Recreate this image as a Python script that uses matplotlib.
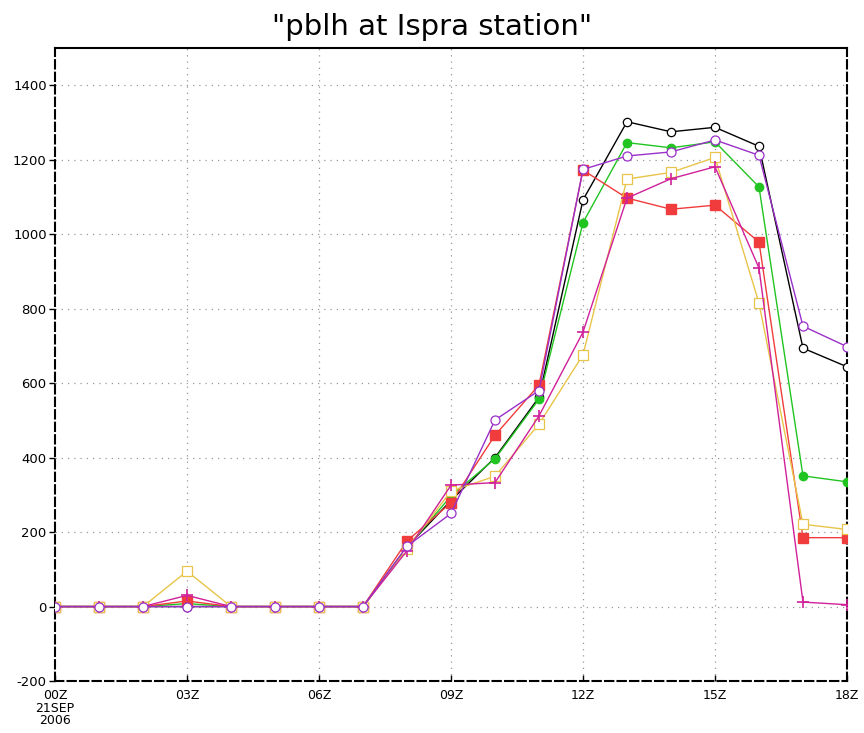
import matplotlib
matplotlib.use("Agg")
import matplotlib.pyplot as plt

hours = list(range(19))
xtick_pos = [0, 3, 6, 9, 12, 15, 18]
xtick_labels = ["00Z\n21SEP\n2006", "03Z", "06Z", "09Z", "12Z", "15Z", "18Z"]
ytick_pos = [-200, 0, 200, 400, 600, 800, 1000, 1200, 1400]

black_run = [0, 0, 0, 0, 0, 0, 0, 0, 160, 285, 400, 562, 1092, 1302, 1275, 1287, 1236, 694, 644]
green_run = [0, 0, 0, 8, 0, 0, 0, 0, 158, 297, 397, 557, 1031, 1246, 1232, 1248, 1127, 351, 335]
red_run = [0, 0, 0, 15, 0, 0, 0, 0, 176, 279, 460, 595, 1172, 1097, 1067, 1078, 979, 185, 185]
yellow_run = [0, 0, 0, 95, 0, 0, 0, 0, 155, 310, 350, 490, 676, 1148, 1166, 1206, 815, 221, 207]
magenta_run = [0, 0, 0, 30, 0, 0, 0, 0, 150, 326, 333, 512, 737, 1097, 1149, 1181, 909, 12, 5]
purple_run = [0, 0, 0, 0, 0, 0, 0, 0, 162, 250, 501, 580, 1174, 1210, 1221, 1253, 1212, 753, 698]

fig = plt.figure(figsize=(8.64, 7.33), dpi=100)
ax = fig.add_axes([0.0637, 0.0709, 0.9166, 0.8636])

lw = 1.0
ax.plot(hours, black_run, color="black", lw=lw, marker="o", ms=6,
        mfc="white", mec="black", mew=0.9, zorder=3)
ax.plot(hours, green_run, color="#22c422", lw=lw, marker="o", ms=6,
        mfc="#22c422", mec="#22c422", zorder=4)
ax.plot(hours, red_run, color="#f03c3c", lw=lw, marker="s", ms=6.5,
        mfc="#f03c3c", mec="#f03c3c", zorder=5)
ax.plot(hours, yellow_run, color="#e8c44a", lw=lw, marker="s", ms=7,
        mfc="white", mec="#e8c44a", mew=0.9, zorder=5)
ax.plot(hours, magenta_run, color="#d0209a", lw=lw, marker="+", ms=8.5,
        mec="#d0209a", mew=1.2, zorder=6)
ax.plot(hours, purple_run, color="#9a30c8", lw=lw, marker="o", ms=6.5,
        mfc="white", mec="#9a30c8", mew=0.9, zorder=7)

ax.set_xlim(0, 18)
ax.set_ylim(-200, 1500)
ax.set_xticks(xtick_pos)
ax.set_xticklabels(xtick_labels, fontsize=9, linespacing=0.95)
ax.set_yticks(ytick_pos)
ax.set_yticklabels([str(v) for v in ytick_pos], fontsize=9.5)
ax.tick_params(axis="y", direction="out", length=4, width=1.0, pad=2)
ax.tick_params(axis="x", direction="in", length=4, width=1.0, pad=6)

for v in ytick_pos[1:]:
    ax.axhline(v, color="#999999", lw=0.9, ls=(0, (1, 4)), zorder=1)
for v in xtick_pos[1:-1]:
    ax.axvline(v, color="#999999", lw=0.9, ls=(0, (1, 4)), zorder=1)

for side in ("left", "right", "bottom"):
    ax.spines[side].set_linestyle((0, (4, 2)))
    ax.spines[side].set_linewidth(1.5)
ax.spines["top"].set_linewidth(1.5)

fig.text(0.5, 0.963, '"pblh at Ispra station"', ha="center", va="center",
         fontsize=21)

fig.savefig("out.png", dpi=100)
